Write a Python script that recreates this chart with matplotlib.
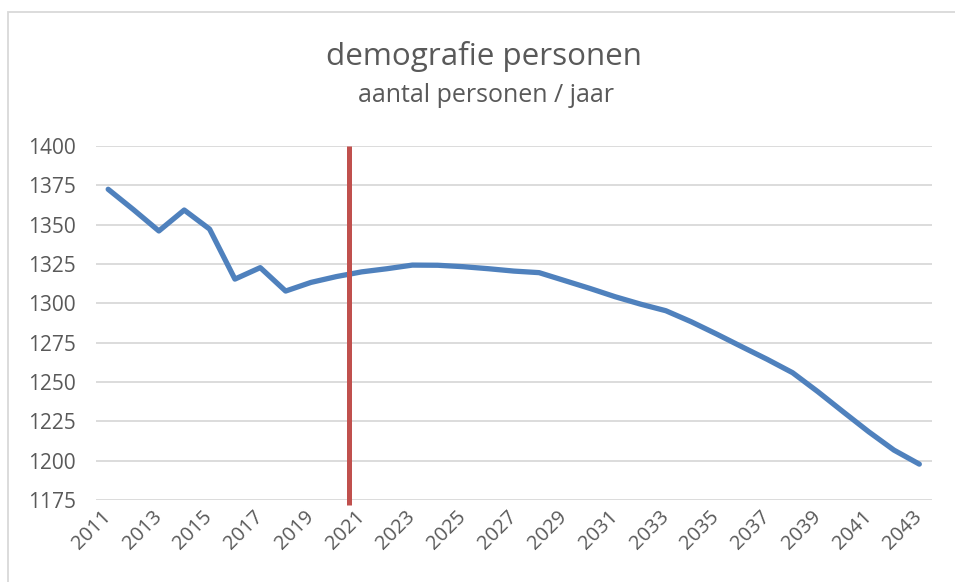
import matplotlib.pyplot as plt
from matplotlib.patches import Rectangle

plt.rcParams['font.family'] = ['Open Sans', 'DejaVu Sans']

years = list(range(2011, 2044))
personen = [1372.5, 1359.5, 1346, 1359.3, 1347.2, 1315.4, 1322.7, 1307.8, 1313.3, 1317,
            1320, 1322, 1324.3, 1324.2, 1323.3, 1322, 1320.5, 1319.5, 1314.5, 1309.5,
            1304.2, 1299.5, 1295.3, 1288.3, 1280.5, 1272.4, 1264.4, 1255.9, 1243.8, 1231,
            1218.4, 1206.7, 1197.8]
scheiding = 2020.5
ylabels = [1175, 1200, 1225, 1250, 1275, 1300, 1325, 1350, 1375, 1400]

grey = '#595959'

fig = plt.figure(figsize=(9.55, 5.82), dpi=100)
ax = fig.add_axes([95.5 / 955, 1 - 500 / 582, (932 - 95.5) / 955, (500 - 146) / 582])

for y in ylabels:
    ax.axhline(y, color='#d9d9d9', lw=1.3, zorder=1)

ax.plot(years, personen, color='#4f81bd', lw=3.8, solid_capstyle='round',
        solid_joinstyle='round', zorder=3)
ax.plot([scheiding, scheiding], [1400, 1172], color='#c0504d', lw=3.6,
        solid_capstyle='butt', clip_on=False, zorder=4)

ax.set_xlim(2010.5, 2043.5)
ax.set_ylim(1175, 1400)
ax.set_yticks(ylabels)
ax.set_yticklabels([str(v) for v in ylabels], fontsize=15, color=grey)
ax.set_xticks(years[::2])
ax.set_xticklabels([str(v) for v in years[::2]], fontsize=14.5, color=grey,
                   rotation=45, ha='right', va='center', rotation_mode='anchor')
ax.tick_params(axis='both', length=0)
ax.tick_params(axis='y', pad=14)
ax.tick_params(axis='x', pad=10)
for s in ax.spines.values():
    s.set_visible(False)

fig.text(484 / 955, 1 - 65 / 582, 'demografie personen', fontsize=22.6, color=grey,
         ha='center', va='baseline')
fig.text(486 / 955, 1 - 102 / 582, 'aantal personen / jaar', fontsize=18, color=grey,
         ha='center', va='baseline')

fig.add_artist(Rectangle((7.5 / 955, -0.05), 1.0, 1 - 12 / 582 + 0.05,
                         transform=fig.transFigure, fill=False,
                         edgecolor='#d9d9d9', lw=1.3))

fig.savefig('out.png', dpi=100)
